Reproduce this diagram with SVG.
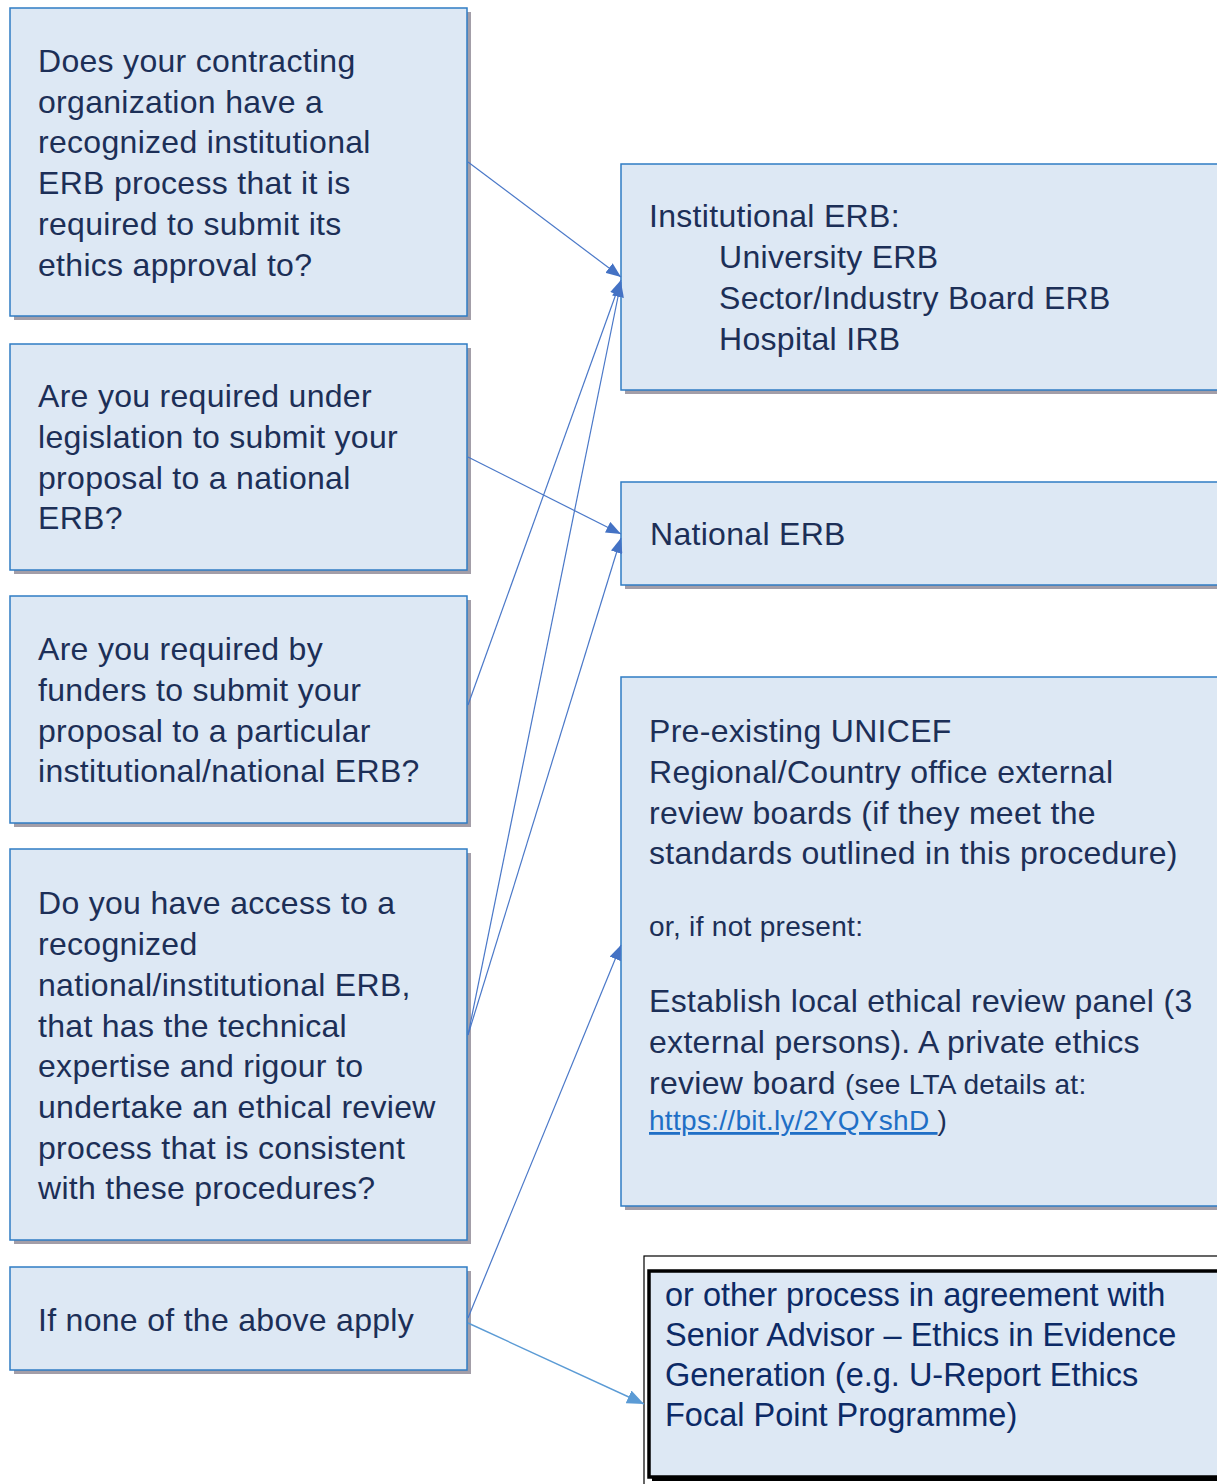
<svg xmlns="http://www.w3.org/2000/svg" width="1217" height="1484" viewBox="0 0 1217 1484">
<style>
.box{fill:#dde8f4;stroke:#2f7cc4;stroke-width:1.5}
.shadow{fill:#a39ea8}
.t{font-family:"Liberation Sans",Arial,sans-serif;font-size:32px;fill:#1c2f57;letter-spacing:0.3px}
.s{font-size:28px}
.link{fill:#1f6fc6;text-decoration:underline}
.t4{font-family:"Liberation Sans",Arial,sans-serif;font-size:32.5px;fill:#0c2a66}
.c{fill:none;stroke:#4a78c8;stroke-width:1.2}
.c2{fill:none;stroke:#5b9bd5;stroke-width:1.4}
</style>
<defs>
<marker id="ah" markerUnits="userSpaceOnUse" markerWidth="16" markerHeight="12" refX="15" refY="6" orient="auto">
<path d="M0,0 L15,6 L0,12 Z" fill="#4472c4"/>
</marker>
<marker id="ah2" markerUnits="userSpaceOnUse" markerWidth="18" markerHeight="14" refX="17" refY="7" orient="auto">
<path d="M0,0 L17,7 L0,14 Z" fill="#5b9bd5"/>
</marker>
</defs>
<rect width="1217" height="1484" fill="#ffffff"/>

<g id="q1">
<rect class="shadow" x="14" y="12" width="457" height="308"/>
<rect class="box" x="10" y="8" width="457" height="308"/>
<text class="t" x="38" y="72">Does your contracting</text>
<text class="t" x="38" y="113">organization have a</text>
<text class="t" x="38" y="153">recognized institutional</text>
<text class="t" x="38" y="194">ERB process that it is</text>
<text class="t" x="38" y="235">required to submit its</text>
<text class="t" x="38" y="276">ethics approval to?</text>
</g>

<g id="q2">
<rect class="shadow" x="14" y="348" width="457" height="226"/>
<rect class="box" x="10" y="344" width="457" height="226"/>
<text class="t" x="38" y="407">Are you required under</text>
<text class="t" x="38" y="448">legislation to submit your</text>
<text class="t" x="38" y="489">proposal to a national</text>
<text class="t" x="38" y="529">ERB?</text>
</g>

<g id="q3">
<rect class="shadow" x="14" y="600" width="457" height="227"/>
<rect class="box" x="10" y="596" width="457" height="227"/>
<text class="t" x="38" y="660">Are you required by</text>
<text class="t" x="38" y="701">funders to submit your</text>
<text class="t" x="38" y="742">proposal to a particular</text>
<text class="t" x="38" y="782">institutional/national ERB?</text>
</g>

<g id="q4">
<rect class="shadow" x="14" y="853" width="457" height="391"/>
<rect class="box" x="10" y="849" width="457" height="391"/>
<text class="t" x="38" y="914">Do you have access to a</text>
<text class="t" x="38" y="955">recognized</text>
<text class="t" x="38" y="996">national/institutional ERB,</text>
<text class="t" x="38" y="1037">that has the technical</text>
<text class="t" x="38" y="1077">expertise and rigour to</text>
<text class="t" x="38" y="1118">undertake an ethical review</text>
<text class="t" x="38" y="1159">process that is consistent</text>
<text class="t" x="38" y="1199">with these procedures?</text>
</g>

<g id="q5">
<rect class="shadow" x="14" y="1271" width="457" height="103"/>
<rect class="box" x="10" y="1267" width="457" height="103"/>
<text class="t" x="38" y="1331">If none of the above apply</text>
</g>

<g id="r1">
<rect class="shadow" x="625" y="168" width="600" height="226"/>
<rect class="box" x="621" y="164" width="600" height="226"/>
<text class="t" x="649" y="227">Institutional ERB:</text>
<text class="t" x="719" y="268">University ERB</text>
<text class="t" x="719" y="309">Sector/Industry Board ERB</text>
<text class="t" x="719" y="350">Hospital IRB</text>
</g>

<g id="r2">
<rect class="shadow" x="625" y="486" width="600" height="103"/>
<rect class="box" x="621" y="482" width="600" height="103"/>
<text class="t" x="650" y="545">National ERB</text>
</g>

<g id="r3">
<rect class="shadow" x="625" y="681" width="600" height="529"/>
<rect class="box" x="621" y="677" width="600" height="529"/>
<text class="t" x="649" y="742">Pre-existing UNICEF</text>
<text class="t" x="649" y="783">Regional/Country office external</text>
<text class="t" x="649" y="824">review boards (if they meet the</text>
<text class="t" x="649" y="864">standards outlined in this procedure)</text>
<text class="t s" x="649" y="936">or, if not present:</text>
<text class="t" x="649" y="1012">Establish local ethical review panel (3</text>
<text class="t" x="649" y="1053">external persons). A private ethics</text>
<text class="t" x="649" y="1094">review board <tspan class="s">(see LTA details at:</tspan></text>
<text class="t s" x="649" y="1130"><tspan class="link">https://bit.ly/2YQYshD </tspan>)</text>
</g>

<g id="r4">
<rect x="644" y="1256" width="600" height="240" fill="#ffffff" stroke="#000000" stroke-width="1.2"/>
<rect x="652" y="1274" width="600" height="207" fill="#000000"/>
<rect x="649" y="1271" width="600" height="206" fill="#dde8f4" stroke="#000000" stroke-width="3.5"/>
<text class="t4" x="665" y="1306">or other process in agreement with</text>
<text class="t4" x="665" y="1346">Senior Advisor – Ethics in Evidence</text>
<text class="t4" x="665" y="1386">Generation (e.g. U-Report Ethics</text>
<text class="t4" x="665" y="1426">Focal Point Programme)</text>
</g>

<g id="connectors">
<line class="c" x1="468" y1="162" x2="621" y2="277" marker-end="url(#ah)"/>
<line class="c" x1="468" y1="457" x2="621" y2="534" marker-end="url(#ah)"/>
<line class="c" x1="468" y1="705" x2="621" y2="280" marker-end="url(#ah)"/>
<line class="c" x1="468" y1="1035" x2="621" y2="282" marker-end="url(#ah)"/>
<line class="c" x1="468" y1="1035" x2="621" y2="538" marker-end="url(#ah)"/>
<line class="c" x1="468" y1="1318" x2="621" y2="945" marker-end="url(#ah)"/>
<line class="c2" x1="468" y1="1323" x2="644" y2="1404" marker-end="url(#ah2)"/>
</g>
</svg>
